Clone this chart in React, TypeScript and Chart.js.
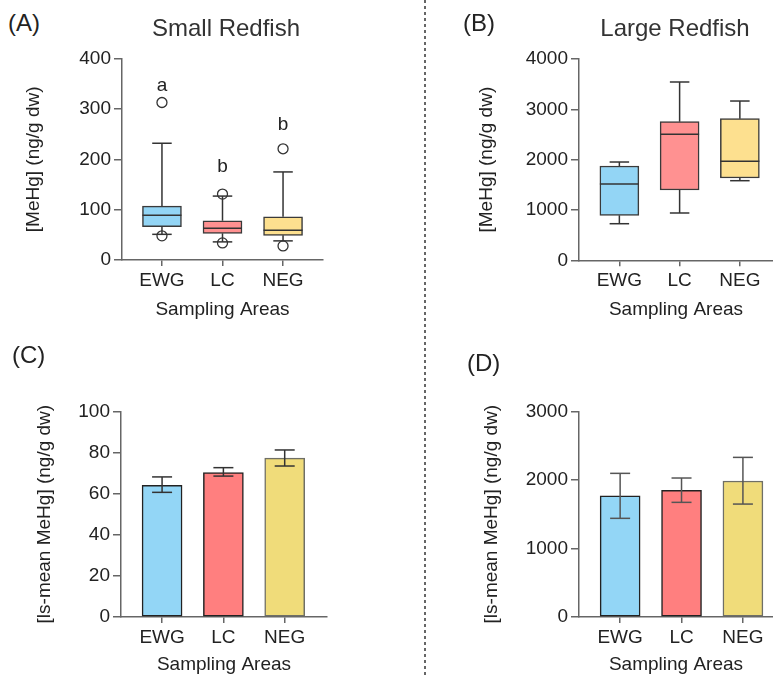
import React, { useEffect, useRef } from 'react';
import { Chart, registerables } from 'chart.js';

Chart.register(...registerables);

const FONT = '"Liberation Sans", Arial, Helvetica, sans-serif';

// ---- data ----
const categories = ['EWG', 'LC', 'NEG'];

// (A) Small Redfish box plot
const smallQ1 = [66, 53, 49];
const smallMedian = [89, 63, 59];
const smallQ3 = [107, 78, 86];
const smallWhiskerLow = [51, 36, 38];
const smallWhiskerHigh = [232, 127, 175];
const smallOutliers = [[313, 48], [131, 34], [221, 28]];
const smallLetters = ['a', 'b', 'b'];
const smallLetterY = [335, 174, 258];

// (B) Large Redfish box plot
const largeQ1 = [894, 1397, 1635];
const largeMedian = [1516, 2503, 1967];
const largeQ3 = [1874, 2754, 2814];
const largeWhiskerLow = [727, 940, 1582];
const largeWhiskerHigh = [1953, 3543, 3165];

// (C) ls-mean small
const smallMean = [64.0, 70.2, 77.2];
const smallErrLow = [60.6, 68.5, 73.4];
const smallErrHigh = [68.1, 72.6, 81.2];

// (D) ls-mean large
const largeMean = [1768, 1847, 1983];
const largeErrLow = [1439, 1672, 1647];
const largeErrHigh = [2095, 2027, 2328];

const boxColors = ['#93D5F5', '#FF9191', '#FDE08F'];
const barColors = ['#93D6F6', '#FF7F7F', '#F0DC7A'];
const barBorders = ['#222222', '#222222', '#6f6f66'];

const yTicksA = { max: 400, step: 100 };
const yTicksB = { max: 4000, step: 1000 };
const yTicksC = { max: 100, step: 20 };
const yTicksD = { max: 3000, step: 1000 };

const AXIS = '#666666';
const TEXT = '#222222';

function yAxis(max: number, step: number, title: string, width: number, titlePad: number) {
  return {
    type: 'linear',
    min: 0,
    max,
    ticks: {
      stepSize: step,
      color: TEXT,
      font: { size: 19, family: FONT },
      padding: 3,
      callback: (v: any) => String(v),
    },
    grid: { drawOnChartArea: false, drawTicks: true, tickLength: 8, color: AXIS, lineWidth: 1.5 },
    border: { display: true, color: AXIS, width: 1.5 },
    title: {
      display: true,
      text: title,
      color: TEXT,
      font: { size: 19, family: FONT },
      padding: { top: titlePad, bottom: 0 },
    },
    afterFit: (s: any) => {
      s.width = width;
    },
  };
}

function xAxis(min: number, max: number, height: number, titlePadBottom: number) {
  return {
    type: 'linear',
    min,
    max,
    offset: false,
    afterBuildTicks: (s: any) => {
      s.ticks = categories.map((_, i) => ({ value: i }));
    },
    ticks: {
      color: TEXT,
      font: { size: 19, family: FONT },
      padding: 3.5,
      autoSkip: false,
      maxRotation: 0,
      callback: (v: any) => categories[v] ?? '',
    },
    grid: { offset: false, drawOnChartArea: false, drawTicks: true, tickLength: 6, color: AXIS, lineWidth: 1.5 },
    border: { display: true, color: AXIS, width: 1.5 },
    title: {
      display: true,
      text: 'Sampling Areas',
      color: TEXT,
      font: { size: 19, family: FONT },
      padding: { top: 0, bottom: titlePadBottom },
    },
    afterFit: (s: any) => {
      s.height = height;
    },
  };
}

function line(ctx: CanvasRenderingContext2D, x1: number, y1: number, x2: number, y2: number) {
  ctx.beginPath();
  ctx.moveTo(x1, y1);
  ctx.lineTo(x2, y2);
  ctx.stroke();
}

function boxPlugin(med: number[], q1: number[], q3: number[], lo: number[], hi: number[], letters?: string[], letterY?: number[]) {
  return {
    id: 'boxWhisker',
    afterDatasetsDraw(chart: any) {
      const ctx = chart.ctx as CanvasRenderingContext2D;
      const y = chart.scales.y;
      const meta = chart.getDatasetMeta(0);
      ctx.save();
      ctx.strokeStyle = '#333333';
      ctx.lineWidth = 1.5;
      meta.data.forEach((bar: any, i: number) => {
        const x = bar.x;
        const w = bar.width;
        const cap = w / 2;
        const yMed = y.getPixelForValue(med[i]);
        const yQ1 = y.getPixelForValue(q1[i]);
        const yQ3 = y.getPixelForValue(q3[i]);
        const yLo = y.getPixelForValue(lo[i]);
        const yHi = y.getPixelForValue(hi[i]);
        line(ctx, x - w / 2, yMed, x + w / 2, yMed);
        line(ctx, x, yQ3, x, yHi);
        line(ctx, x - cap / 2, yHi, x + cap / 2, yHi);
        line(ctx, x, yQ1, x, yLo);
        line(ctx, x - cap / 2, yLo, x + cap / 2, yLo);
        if (letters && letterY) {
          ctx.fillStyle = TEXT;
          ctx.font = `19px ${FONT}`;
          ctx.textAlign = 'center';
          ctx.textBaseline = 'alphabetic';
          ctx.fillText(letters[i], x, y.getPixelForValue(letterY[i]));
        }
      });
      ctx.restore();
    },
  };
}

function errorPlugin(lo: number[], hi: number[], color: string) {
  return {
    id: 'errorBars',
    afterDatasetsDraw(chart: any) {
      const ctx = chart.ctx as CanvasRenderingContext2D;
      const y = chart.scales.y;
      const meta = chart.getDatasetMeta(0);
      ctx.save();
      ctx.strokeStyle = color;
      ctx.lineWidth = 1.5;
      meta.data.forEach((bar: any, i: number) => {
        const x = bar.x;
        const cap = bar.width / 2;
        const yLo = y.getPixelForValue(lo[i]);
        const yHi = y.getPixelForValue(hi[i]);
        line(ctx, x, yLo, x, yHi);
        line(ctx, x - cap / 2, yHi, x + cap / 2, yHi);
        line(ctx, x - cap / 2, yLo, x + cap / 2, yLo);
      });
      ctx.restore();
    },
  };
}

function baseOptions(padding: any, scales: any) {
  return {
    responsive: false,
    animation: false,
    devicePixelRatio: 1,
    layout: { padding },
    plugins: { legend: { display: false }, tooltip: { enabled: false }, title: { display: false } },
    scales,
  };
}

function boxConfig(
  q1: number[], med: number[], q3: number[], lo: number[], hi: number[],
  outliers: number[][] | null, yt: { max: number; step: number },
  layout: { yWidth: number; yTitlePad: number; padTop: number; padRight: number; xHeight: number; xTitlePad: number; xMin: number; xMax: number },
  letters?: string[], letterY?: number[],
) {
  const datasets: any[] = [
    {
      type: 'bar',
      data: categories.map((_, i) => ({ x: i, y: [q1[i], q3[i]] })),
      backgroundColor: boxColors,
      borderColor: '#3a3a3a',
      borderWidth: 1.5,
      borderSkipped: false,
      barThickness: 39,
      order: 2,
    },
  ];
  if (outliers) {
    const pts: any[] = [];
    outliers.forEach((vals, i) => vals.forEach((v) => pts.push({ x: i, y: v })));
    datasets.push({
      type: 'scatter',
      data: pts,
      pointRadius: 5,
      pointBackgroundColor: '#ffffff',
      pointBorderColor: '#333333',
      pointBorderWidth: 1.3,
      order: 1,
    });
  }
  return {
    type: 'bar',
    data: { datasets },
    options: baseOptions(
      { top: layout.padTop, right: layout.padRight, left: 0, bottom: 0 },
      {
        x: xAxis(layout.xMin, layout.xMax, layout.xHeight, layout.xTitlePad),
        y: yAxis(yt.max, yt.step, '[MeHg] (ng/g dw)', layout.yWidth, layout.yTitlePad),
      },
    ),
    plugins: [boxPlugin(med, q1, q3, lo, hi, letters, letterY)],
  };
}

function barConfig(
  mean: number[], lo: number[], hi: number[], yt: { max: number; step: number },
  layout: { yWidth: number; yTitlePad: number; padTop: number; padRight: number; xHeight: number; xTitlePad: number; xMin: number; xMax: number },
  errColor: string,
) {
  return {
    type: 'bar',
    data: {
      datasets: [
        {
          type: 'bar',
          data: categories.map((_, i) => ({ x: i, y: mean[i] })),
          backgroundColor: barColors,
          borderColor: barBorders,
          borderWidth: 1.5,
          borderSkipped: false,
          barThickness: 40,
        },
      ],
    },
    options: baseOptions(
      { top: layout.padTop, right: layout.padRight, left: 0, bottom: 0 },
      {
        x: xAxis(layout.xMin, layout.xMax, layout.xHeight, layout.xTitlePad),
        y: yAxis(yt.max, yt.step, '[ls-mean MeHg] (ng/g dw)', layout.yWidth, layout.yTitlePad),
      },
    ),
    plugins: [errorPlugin(lo, hi, errColor)],
  };
}

function Panel({ left, top, width, height, build }: { left: number; top: number; width: number; height: number; build: () => any }) {
  const ref = useRef<HTMLCanvasElement>(null);
  useEffect(() => {
    const chart = new Chart(ref.current as HTMLCanvasElement, build());
    return () => chart.destroy();
  }, []);
  return (
    <div style={{ position: 'absolute', left, top, width, height }}>
      <canvas ref={ref} width={width} height={height} style={{ display: 'block', width, height }} />
    </div>
  );
}

function Label({ text, left, top, size = 24, color = TEXT, center = false }: { text: string; left: number; top: number; size?: number; color?: string; center?: boolean }) {
  return (
    <div
      style={{
        position: 'absolute',
        left: center ? left - 150 : left,
        width: center ? 300 : undefined,
        textAlign: center ? 'center' : 'left',
        top,
        fontSize: size,
        lineHeight: `${size}px`,
        fontFamily: FONT,
        color,
        whiteSpace: 'nowrap',
      }}
    >
      {text}
    </div>
  );
}

export default function App() {
  useEffect(() => {
    document.body.style.margin = '0';
  }, []);
  return (
    <div style={{ position: 'absolute', left: 0, top: 0, width: 773, height: 677, overflow: 'hidden', background: '#ffffff' }}>
      <Panel
        left={0}
        top={40}
        width={386}
        height={290}
        build={() =>
          boxConfig(smallQ1, smallMedian, smallQ3, smallWhiskerLow, smallWhiskerHigh, smallOutliers, yTicksA,
            { yWidth: 122, yTitlePad: 22.6, padTop: 18.7, padRight: 63, xHeight: 70, xTitlePad: 8.6, xMin: -0.66, xMax: 2.66 },
            smallLetters, smallLetterY)
        }
      />
      <Panel
        left={390}
        top={40}
        width={383}
        height={290}
        build={() =>
          boxConfig(largeQ1, largeMedian, largeQ3, largeWhiskerLow, largeWhiskerHigh, null, yTicksB,
            { yWidth: 189, yTitlePad: 85.6, padTop: 19, padRight: 0, xHeight: 69.7, xTitlePad: 8.6, xMin: -0.67, xMax: 2.55 })
        }
      />
      <Panel
        left={0}
        top={330}
        width={386}
        height={347}
        build={() =>
          barConfig(smallMean, smallErrLow, smallErrHigh, yTicksC,
            { yWidth: 121, yTitlePad: 33.6, padTop: 81.3, padRight: 59, xHeight: 60, xTitlePad: 0.6, xMin: -0.67, xMax: 2.69 },
            '#333333')
        }
      />
      <Panel
        left={390}
        top={330}
        width={383}
        height={347}
        build={() =>
          barConfig(largeMean, largeErrLow, largeErrHigh, yTicksD,
            { yWidth: 189, yTitlePad: 90.6, padTop: 81.3, padRight: 0, xHeight: 60, xTitlePad: 0.6, xMin: -0.67, xMax: 2.49 },
            '#555555')
        }
      />
      <div
        style={{
          position: 'absolute',
          left: 424,
          top: 0,
          width: 1.5,
          height: 677,
          background: 'repeating-linear-gradient(to bottom, #666 0px, #666 3px, transparent 3px, transparent 6px)',
        }}
      />
      <Label text="(A)" left={8} top={11.4} />
      <Label text="Small Redfish" left={226} top={16} color="#333333" center />
      <Label text="(B)" left={463} top={11.4} />
      <Label text="Large Redfish" left={675} top={15.7} color="#333333" center />
      <Label text="(C)" left={12} top={343} />
      <Label text="(D)" left={467} top={351.4} />
    </div>
  );
}
